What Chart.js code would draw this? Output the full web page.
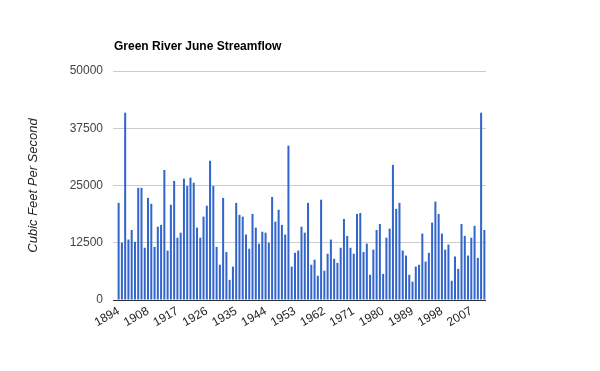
<!DOCTYPE html>
<html>
<head>
<meta charset="utf-8">
<script src="https://cdn.jsdelivr.net/npm/chart.js@4"></script>
<style>
  body { margin: 0; background: #fff; }
  canvas { display: block; }
</style>
</head>
<body>
<canvas id="flowChart" width="600" height="371"></canvas>
<script>
// Green River June streamflow, cubic feet per second
const titleText = 'Green River June Streamflow';
const yTitle = 'Cubic Feet Per Second';

// years of record (gap 1900-1904)
const years = [
  1894, 1895, 1896, 1897, 1898, 1899,
  1905, 1906, 1907, 1908, 1909, 1910, 1911, 1912, 1913, 1914,
  1915, 1916, 1917, 1918, 1919, 1920, 1921, 1922, 1923, 1924,
  1925, 1926, 1927, 1928, 1929, 1930, 1931, 1932, 1933, 1934,
  1935, 1936, 1937, 1938, 1939, 1940, 1941, 1942, 1943, 1944,
  1945, 1946, 1947, 1948, 1949, 1950, 1951, 1952, 1953, 1954,
  1955, 1956, 1957, 1958, 1959, 1960, 1961, 1962, 1963, 1964,
  1965, 1966, 1967, 1968, 1969, 1970, 1971, 1972, 1973, 1974,
  1975, 1976, 1977, 1978, 1979, 1980, 1981, 1982, 1983, 1984,
  1985, 1986, 1987, 1988, 1989, 1990, 1991, 1992, 1993, 1994,
  1995, 1996, 1997, 1998, 1999, 2000, 2001, 2002, 2003, 2004,
  2005, 2006, 2007, 2008, 2009, 2010, 2011
];

const flow = [
  21200, 12500, 40900, 13200, 15300, 12700,
  24500, 24500, 11400, 22300, 21000, 11600, 16000, 16400, 28400, 10800,
  20800, 26000, 13600, 14700, 26500, 24900, 26700, 25600, 15800, 13600,
  18200, 20600, 30400, 24900, 11600, 7700, 22300, 10500, 4400, 7300,
  21200, 18600, 18200, 14300, 11200, 18800, 15800, 12300, 14900, 14700,
  12500, 22500, 17100, 19700, 16400, 14300, 33700, 7300, 10300, 10800,
  16000, 14700, 21200, 7700, 8800, 5300, 21900, 6400, 10100, 13200,
  9000, 8100, 11400, 17700, 14000, 11400, 10100, 18800, 19000, 10500,
  12300, 5500, 11000, 15300, 16600, 5700, 13600, 15600, 29500, 19900,
  21200, 10800, 9700, 5500, 4000, 7300, 7700, 14500, 8400, 10300,
  16900, 21500, 18800, 14500, 11000, 12100, 4200, 9500, 6800, 16600,
  14000, 9700, 13600, 16200, 9200, 40900, 15300
];

const tickYears = [1894, 1908, 1917, 1926, 1935, 1944, 1953, 1962, 1971, 1980, 1989, 1998, 2007];
const yTicks = [0, 12500, 25000, 37500, 50000];

const FONT = 'Arial, "Liberation Sans", sans-serif';

// title sits over the plot's left edge, not the canvas edge
const titlePlugin = {
  id: 'titleText',
  afterDraw(chart) {
    const c = chart.ctx;
    c.save();
    c.font = 'bold 12px ' + FONT;
    c.fillStyle = '#000';
    c.textBaseline = 'alphabetic';
    c.fillText(titleText, 114, 50);
    c.restore();
  }
};

const ctx = document.getElementById('flowChart').getContext('2d');
new Chart(ctx, {
  type: 'bar',
  data: {
    labels: years.map(String),
    datasets: [{
      data: flow,
      backgroundColor: '#3366cc',
      borderWidth: 0,
      categoryPercentage: 1,
      barPercentage: 0.62
    }]
  },
  options: {
    responsive: false,
    animation: false,
    layout: { padding: { top: 71, right: 114, left: 0, bottom: 0 } },
    plugins: { legend: { display: false }, tooltip: { enabled: false } },
    scales: {
      x: {
        grid: { display: false, drawTicks: false },
        border: { display: false },
        ticks: {
          autoSkip: false,
          minRotation: 30,
          maxRotation: 30,
          padding: 4,
          color: '#222',
          font: { family: FONT, size: 12 },
          callback: (v, i) => tickYears.includes(years[i]) ? String(years[i]) : ''
        },
        afterFit(scale) {
          scale.height = 71;
          scale.paddingLeft = 0;
          scale.paddingRight = 0;
        }
      },
      y: {
        min: 0,
        max: 50000,
        afterBuildTicks(scale) {
          scale.ticks = yTicks.map(v => ({ value: v }));
        },
        grid: {
          color: c => c.tick && c.tick.value === 0 ? '#333' : '#ccc',
          tickLength: 4
        },
        border: { display: false },
        ticks: {
          padding: 10,
          color: '#444',
          font: { family: FONT, size: 12 },
          callback: v => String(v)
        },
        title: {
          display: true,
          text: yTitle,
          color: '#222',
          font: { family: FONT, size: 13, style: 'italic' },
          padding: { top: 26, bottom: 0 }
        },
        afterFit(scale) {
          scale.width = 117;
          scale.paddingTop = 0;
          scale.paddingBottom = 0;
        }
      }
    }
  },
  plugins: [titlePlugin]
});
</script>
</body>
</html>
